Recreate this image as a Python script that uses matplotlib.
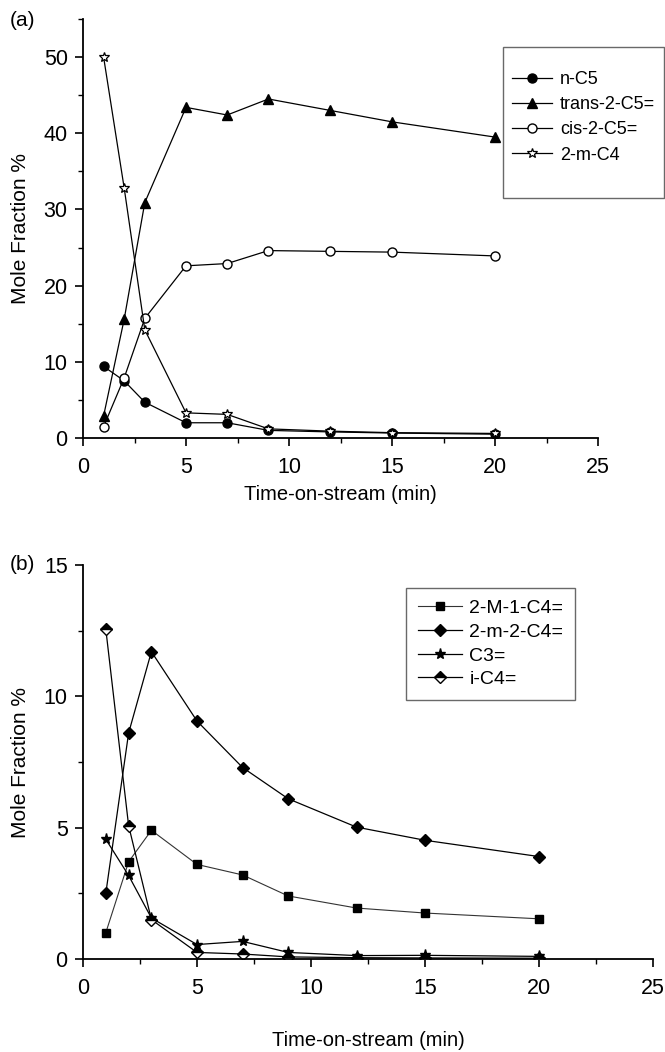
import numpy as np
import matplotlib
matplotlib.use("Agg")
import matplotlib.pyplot as plt
from matplotlib.ticker import MultipleLocator
from matplotlib.lines import Line2D

plt.rcParams['font.family'] = ['Liberation Sans', 'DejaVu Sans']

# Panel (a)
tiempo = [1, 2, 3, 5, 7, 9, 12, 15, 20]
n_c5 = [9.4, 7.5, 4.7, 2.0, 2.0, 1.0, 0.8, 0.65, 0.5]
trans_c5 = [2.9, 15.6, 30.9, 43.4, 42.4, 44.5, 43.0, 41.5, 39.5]
cis_c5 = [1.5, 7.9, 15.7, 22.6, 22.9, 24.6, 24.5, 24.4, 23.9]
m_c4 = [50.0, 32.8, 14.2, 3.3, 3.1, 1.2, 0.9, 0.7, 0.6]

# Panel (b)
m1_c4e = [1.0, 3.7, 4.9, 3.6, 3.2, 2.4, 1.94, 1.75, 1.53]
m2_c4e = [2.5, 8.6, 11.7, 9.06, 7.29, 6.1, 5.02, 4.52, 3.9]
c3e = [4.56, 3.18, 1.56, 0.55, 0.67, 0.25, 0.13, 0.14, 0.1]
i_c4e = [12.56, 5.08, 1.5, 0.25, 0.19, 0.08, 0.05, 0.04, 0.03]

W, H = 665, 1052
fig = plt.figure(figsize=(W / 100, H / 100), dpi=100)

def caja(l, t, r, b):
    return fig.add_axes([l / W, 1 - b / H, (r - l) / W, (b - t) / H])

def estilo(ax, ymax, ymayor, ymenor, xpad):
    ax.set_xlim(0, 25)
    ax.set_ylim(0, ymax)
    ax.xaxis.set_major_locator(MultipleLocator(5))
    ax.xaxis.set_minor_locator(MultipleLocator(2.5))
    ax.yaxis.set_major_locator(MultipleLocator(ymayor))
    ax.yaxis.set_minor_locator(MultipleLocator(ymenor))
    ax.spines['top'].set_visible(False)
    ax.spines['right'].set_visible(False)
    for s in ('left', 'bottom'):
        ax.spines[s].set_linewidth(1.3)
    ax.tick_params(which='major', direction='out', length=6, width=1.2, labelsize=15.5)
    ax.tick_params(axis='x', which='major', pad=8)
    ax.tick_params(axis='y', which='major', pad=5)
    ax.tick_params(which='minor', direction='out', length=3.5, width=1.0)
    ax.set_xlabel("Time-on-stream (min)", fontsize=14.5, labelpad=xpad)
    ax.set_ylabel("Mole Fraction %", fontsize=15, labelpad=10)

lw = 0.9
ms = 6.5

ax1 = caja(83, 19, 598, 438)
ax1.plot(tiempo, n_c5, '-o', color='black', lw=lw, ms=ms, mfc='black', label='n-C5')
ax1.plot(tiempo, trans_c5, '-^', color='black', lw=lw, ms=ms, mfc='black', label='trans-2-C5=')
ax1.plot(tiempo, cis_c5, '-o', color='black', lw=lw, ms=ms, mfc='white', label='cis-2-C5=')
ax1.plot(tiempo, m_c4, '-*', color='black', lw=lw, ms=7.5, mfc='white', mew=0.9, label='2-m-C4')
estilo(ax1, 55, 10, 5, 5)
h1, l1 = ax1.get_legend_handles_labels()
h1.append(Line2D([], [], color='none'))
l1.append(' ')
leg1 = ax1.legend(h1, l1, loc='upper left', bbox_to_anchor=(420 / 515, 1 - 28 / 419), fontsize=13,
                  title=' ', title_fontsize=5,
                  frameon=True, fancybox=False, edgecolor='#444444', handlelength=2.2,
                  handletextpad=0.45, labelspacing=0.45, borderpad=0.5,
                  borderaxespad=0)
leg1.get_frame().set_linewidth(1.0)
fig.text(10 / W, 1 - 20 / H, "(a)", fontsize=15, va='center', ha='left')

ax2 = caja(83, 565, 653, 959)
ax2.plot(tiempo, m1_c4e, '-s', color='#333333', lw=0.8, ms=6, mfc='black', mec='black', label='2-M-1-C4=')
ax2.plot(tiempo, m2_c4e, '-D', color='black', lw=lw, ms=6, mfc='black', label='2-m-2-C4=')
ax2.plot(tiempo, c3e, '-*', color='black', lw=lw, ms=8, mfc='black', label='C3=')
ax2.plot(tiempo, i_c4e, '-D', color='black', lw=lw, ms=6, mfc='black', fillstyle='top',
         markerfacecoloralt='white', label='i-C4=')
estilo(ax2, 15, 5, 2.5, 23)
leg2 = ax2.legend(loc='upper left', bbox_to_anchor=(323 / 570, 1 - 23 / 394), fontsize=14,
                  frameon=True, fancybox=False, edgecolor='#444444', handlelength=2.3,
                  handletextpad=0.36, labelspacing=0.31, borderpad=0.6,
                  borderaxespad=0)
leg2.get_frame().set_linewidth(1.0)
fig.text(10 / W, 1 - 565 / H, "(b)", fontsize=15, va='center', ha='left')

fig.savefig("out.png", dpi=100)
